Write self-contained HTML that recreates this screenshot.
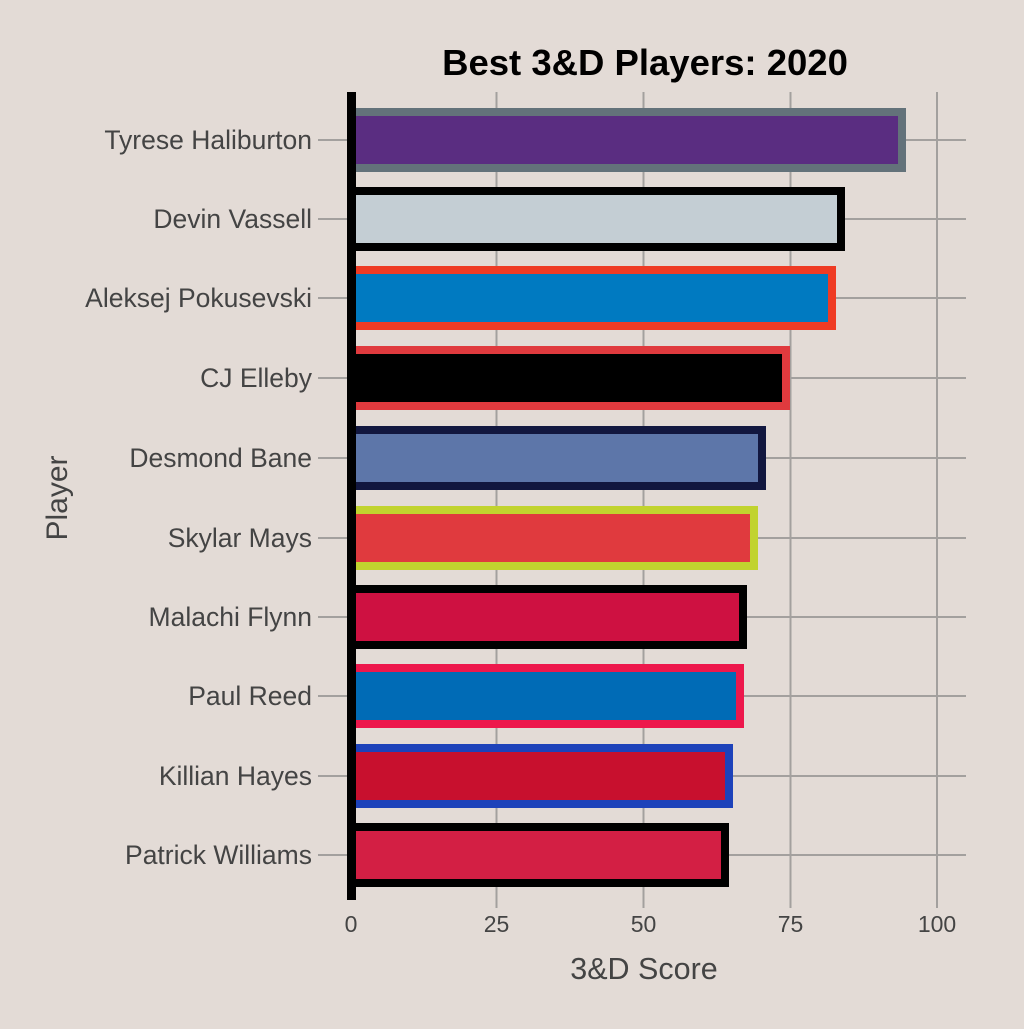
<!DOCTYPE html><html><head><style>body{margin:0;background:#E3DBD6}</style></head><body>
<svg width="1024" height="1024" xmlns="http://www.w3.org/2000/svg" font-family="Liberation Sans, sans-serif">
<rect width="1024" height="1024" fill="#E3DBD6"/>
<g stroke="#A3A09E" stroke-width="2">
<line x1="496.5" y1="92" x2="496.5" y2="908"/><line x1="643.5" y1="92" x2="643.5" y2="908"/><line x1="790.5" y1="92" x2="790.5" y2="908"/><line x1="937" y1="92" x2="937" y2="908"/>
<line x1="318" y1="140" x2="966" y2="140"/><line x1="318" y1="219" x2="966" y2="219"/><line x1="318" y1="298" x2="966" y2="298"/><line x1="318" y1="378" x2="966" y2="378"/><line x1="318" y1="458" x2="966" y2="458"/><line x1="318" y1="538" x2="966" y2="538"/><line x1="318" y1="617" x2="966" y2="617"/><line x1="318" y1="696" x2="966" y2="696"/><line x1="318" y1="776" x2="966" y2="776"/><line x1="318" y1="855" x2="966" y2="855"/>
</g>
<g stroke-width="8">
<rect x="352" y="112" width="550" height="56" fill="#5A2D81" stroke="#63727A"/>
<rect x="352" y="191" width="489" height="56" fill="#C4CED4" stroke="#000"/>
<rect x="352" y="270" width="480" height="56" fill="#007AC1" stroke="#EF3B24"/>
<rect x="352" y="350" width="434" height="56" fill="#000" stroke="#E03A3E"/>
<rect x="352" y="430" width="410" height="56" fill="#5D76A9" stroke="#12173F"/>
<rect x="352" y="510" width="402" height="56" fill="#E03A3E" stroke="#C1D32F"/>
<rect x="352" y="589" width="391" height="56" fill="#CE1141" stroke="#000"/>
<rect x="352" y="668" width="388" height="56" fill="#006BB6" stroke="#ED174C"/>
<rect x="352" y="748" width="377" height="56" fill="#C8102E" stroke="#1D42BA"/>
<rect x="352" y="827" width="373" height="56" fill="#D31F44" stroke="#000"/>
</g>
<rect x="347" y="92" width="9" height="808" fill="#000"/>
<g fill="#444" font-size="26.5" text-anchor="end">
<text x="312" y="149">Tyrese Haliburton</text><text x="312" y="228">Devin Vassell</text><text x="312" y="307">Aleksej Pokusevski</text><text x="312" y="387">CJ Elleby</text><text x="312" y="467">Desmond Bane</text><text x="312" y="547">Skylar Mays</text><text x="312" y="626">Malachi Flynn</text><text x="312" y="705">Paul Reed</text><text x="312" y="785">Killian Hayes</text><text x="312" y="864">Patrick Williams</text>
</g>
<g fill="#444" font-size="23" text-anchor="middle">
<text x="351" y="932">0</text><text x="496.5" y="932">25</text><text x="643.5" y="932">50</text><text x="790.5" y="932">75</text><text x="937" y="932">100</text>
</g>
<text x="644" y="979" fill="#444" font-size="30.5" text-anchor="middle">3&amp;D Score</text>
<text transform="translate(67,498) rotate(-90)" fill="#444" font-size="30" text-anchor="middle">Player</text>
<text x="645" y="75" fill="#000" font-size="36.5" font-weight="bold" text-anchor="middle">Best 3&amp;D Players: 2020</text>
</svg></body></html>
